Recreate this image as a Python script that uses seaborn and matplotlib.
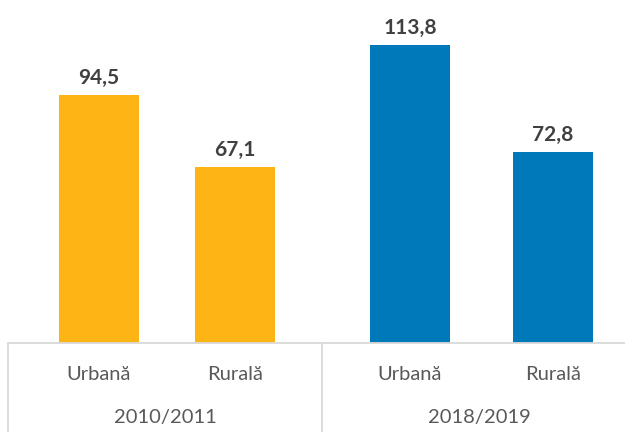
import matplotlib
matplotlib.use("Agg")
import matplotlib.pyplot as plt
import seaborn as sns
import numpy as np
import pandas as pd

# ---- data ----
periods = ["2010/2011", "2010/2011", "2018/2019", "2018/2019"]
areas = ["Urbană", "Rurală", "Urbană", "Rurală"]
values = [94.5, 67.1, 113.8, 72.8]
value_labels = ["94,5", "67,1", "113,8", "72,8"]
group_labels = ["2010/2011", "2018/2019"]

# ---- layout (pixel-based x coordinates) ----
bar_pos = [99, 235, 410, 553]
bar_px = 80
sep_pos = [8, 322]
group_centers = [165, 479]

W, H = 625, 432
base_y = 343  # pixel row of the axis line
px_per_unit = 2.62

sns.set_theme(style="white")
plt.rcParams["font.family"] = ["Lato", "DejaVu Sans"]

fig = plt.figure(figsize=(W / 100, H / 100), dpi=100)
ax = fig.add_axes([8 / W, (H - base_y) / H, (W - 8) / W, base_y / H])

df = pd.DataFrame({"pos": bar_pos, "value": values, "period": periods, "area": areas})
min_gap = np.min(np.diff(sorted(bar_pos)))
sns.barplot(data=df, x="pos", y="value", hue="period", native_scale=True,
            dodge=False, width=bar_px / min_gap,
            palette={"2010/2011": "#FDB515", "2018/2019": "#0079BA"},
            legend=False, ax=ax, saturation=1, linewidth=0)

ax.set_xlim(8, W)
ax.set_ylim(0, base_y / px_per_unit)

for x, v, lab in zip(bar_pos, values, value_labels):
    ax.annotate(lab, (x, v), xytext=(0, 8), textcoords="offset points",
                ha="center", va="baseline", fontsize=15, fontweight="bold",
                color="#404040")

for s in ["top", "right", "left"]:
    ax.spines[s].set_visible(False)
ax.spines["bottom"].set_color("#D9D9D9")
ax.spines["bottom"].set_linewidth(1.3)
ax.set_yticks([])
ax.set_ylabel("")
ax.set_xlabel("")

ax.set_xticks(bar_pos)
ax.set_xticklabels(areas, fontsize=14.5, color="#595959")
ax.tick_params(axis="x", length=0, pad=23)
for t in ax.get_xticklabels():
    t.set_va("center")

tr = ax.get_xaxis_transform()
bottom_frac = -(H - base_y) / base_y
for x in sep_pos:
    ax.plot([x, x], [0, bottom_frac], transform=tr, color="#D9D9D9",
            linewidth=1.3, clip_on=False)

for x, g in zip(group_centers, group_labels):
    ax.text(x, (base_y - 418) / base_y, g, transform=tr, ha="center", va="center",
            fontsize=14.5, color="#595959")

fig.savefig("out.png", dpi=100)
